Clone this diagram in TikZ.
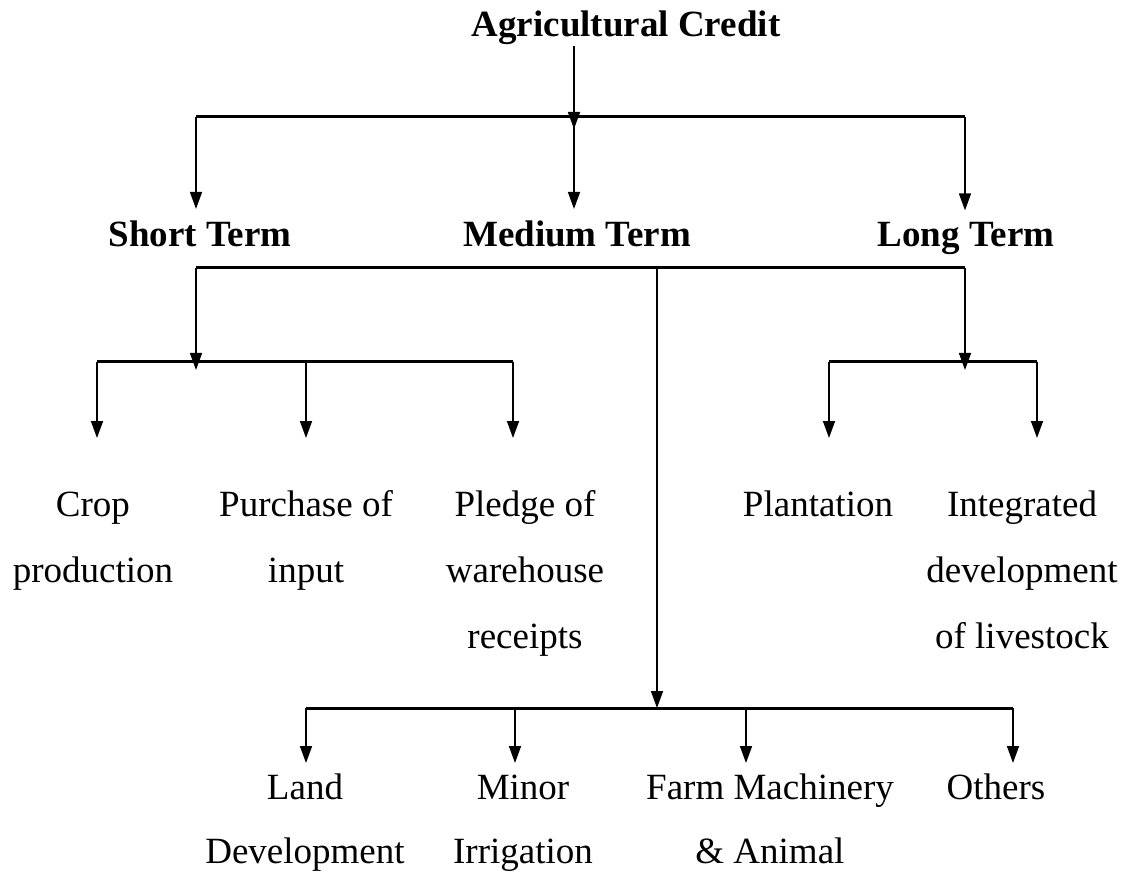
\documentclass[tikz,border=0pt]{standalone}
\usepackage{fontspec}
\setmainfont{Liberation Serif}
\usetikzlibrary{arrows.meta}
\newcommand\toph{\vphantom{Ald}}
\begin{document}
\begin{tikzpicture}[x=0.5pt,y=-0.5pt,
  hd/.style={font=\fontsize{18.5}{31.5}\selectfont\bfseries, inner sep=0pt, anchor=base},
  lbl/.style={font=\fontsize{18.5}{33}\selectfont, align=center, inner sep=0pt, anchor=north},
  lblb/.style={font=\fontsize{18.5}{32}\selectfont, align=center, inner sep=0pt, anchor=north},
  arr/.style={-{Triangle[width=6pt,length=8.5pt]}, line width=0.8pt},
  bar/.style={line width=1.5pt}]
\useasboundingbox (0,0) rectangle (1132,872);

% nodes
\node[hd] (t)  at (626,37)  {Agricultural Credit};
\node[hd] (st) at (200,247) {Short Term};
\node[hd] (mt) at (577,247) {Medium Term};
\node[hd] (lt) at (966,247) {Long Term};

\node[lbl] (crop)   at (93,490)   {\toph Crop\\production};
\node[lbl] (purch)  at (306,490)  {\toph Purchase of\\input};
\node[lbl] (pledge) at (525,490)  {\toph Pledge of\\warehouse\\receipts};
\node[lbl] (plant)  at (818,490)  {\toph Plantation};
\node[lbl] (integ)  at (1022,490) {\toph Integrated\\development\\of livestock};

\node[lblb] (land)   at (305,773) {\toph Land\\Development};
\node[lblb] (minor)  at (523,773) {\toph Minor\\Irrigation};
\node[lblb] (farm)   at (770,773) {\toph Farm Machinery\\\& Animal};
\node[lblb] (others) at (996,773) {\toph Others};

% junction coordinates
\coordinate (b1L) at (196,117);
\coordinate (b1M) at (574,117);
\coordinate (b1R) at (965,117);
\coordinate (b2L) at (196,268);
\coordinate (b2M) at (657,268);
\coordinate (b2R) at (965,268);
\coordinate (sL) at (97,362);
\coordinate (sM) at (306,362);
\coordinate (sR) at (513,362);
\coordinate (s0) at (196,362);
\coordinate (lL) at (829,362);
\coordinate (l0) at (965,362);
\coordinate (lR) at (1037,362);
\coordinate (m0) at (657,708);
\coordinate (mA) at (306,708);
\coordinate (mB) at (515,708);
\coordinate (mC) at (746,708);
\coordinate (mD) at (1013,708);

% level 1
\draw[arr] (t.south -| b1M) -- ([yshift=-6pt]b1M);
\draw[bar] (b1L) -- (b1R);
\draw[arr, shorten >=6pt] (b1L) -- (b1L |- st.north);
\draw[arr, shorten >=6pt] (b1M) -- (b1M |- mt.north);
\draw[arr, shorten >=6pt] (b1R) -- (b1R |- lt.north);

% level 2
\draw[bar] (b2L) -- (b2R);
\draw[arr] (b2L) -- ([yshift=-4pt]s0);
\draw[arr] (b2R) -- ([yshift=-4pt]l0);
\draw[arr] (b2M) -- (m0);

% short term branch
\draw[bar] (sL) -- (sR);
\draw[arr, shorten >=26pt] (sL) -- (sL |- crop.north);
\draw[arr, shorten >=26pt] (sM) -- (sM |- purch.north);
\draw[arr, shorten >=26pt] (sR) -- (sR |- pledge.north);

% long term branch
\draw[bar] (lL) -- (lR);
\draw[arr, shorten >=26pt] (lL) -- (lL |- plant.north);
\draw[arr, shorten >=26pt] (lR) -- (lR |- integ.north);

% medium term branch
\draw[bar] (mA) -- (mD);
\draw[arr, shorten >=5pt] (mA) -- (mA |- land.north);
\draw[arr, shorten >=5pt] (mB) -- (mB |- minor.north);
\draw[arr, shorten >=5pt] (mC) -- (mC |- farm.north);
\draw[arr, shorten >=5pt] (mD) -- (mD |- others.north);
\end{tikzpicture}
\end{document}
